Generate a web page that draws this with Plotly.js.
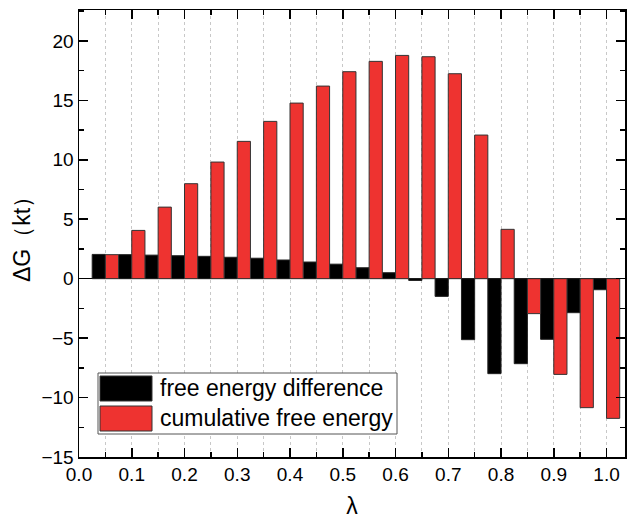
<!DOCTYPE html>
<html>
<head>
<meta charset="utf-8">
<script src="https://cdn.plot.ly/plotly-3.0.1.min.js"></script>
<style>html,body{margin:0;padding:0;background:#fff;}#chart{width:627px;height:519px;}</style>
</head>
<body>
<div id="chart"></div>
<script>
const lambdaValues = [0.05,0.10,0.15,0.20,0.25,0.30,0.35,0.40,0.45,0.50,0.55,0.60,0.65,0.70,0.75,0.80,0.85,0.90,0.95,1.00];
const freeEnergyDifference = [2.04,2.02,1.98,1.93,1.88,1.80,1.72,1.57,1.40,1.22,0.92,0.50,-0.15,-1.49,-5.13,-7.99,-7.15,-5.10,-2.86,-0.93];
const cumulativeFreeEnergy = [2.02,4.06,6.02,7.99,9.81,11.55,13.23,14.77,16.20,17.41,18.28,18.78,18.67,17.24,12.08,4.15,-2.94,-8.05,-10.85,-11.75];
const seriesNames = ["free energy difference", "cumulative free energy"];
const xTickLabels = ["0.0","0.1","0.2","0.3","0.4","0.5","0.6","0.7","0.8","0.9","1.0"];
const xTickValues = [0,0.1,0.2,0.3,0.4,0.5,0.6,0.7,0.8,0.9,1.0];

const FONT = "Liberation Sans, Arial, sans-serif";
const BLACK = "#000000";
const RED = "#EE3330";

const traces = [
  {type:"bar", x:lambdaValues, y:freeEnergyDifference, name:seriesNames[0],
   marker:{color:BLACK, line:{color:"#222", width:1}}, showlegend:false},
  {type:"bar", x:lambdaValues, y:cumulativeFreeEnergy, name:seriesNames[1],
   marker:{color:RED, line:{color:"#333", width:1}}, showlegend:false}
];

// custom legend (big swatches like the original)
const px0 = 79, px1 = 625, py0 = 10, py1 = 457;
const fx = v => (v - px0) / (px1 - px0);
const fy = v => (py1 - v) / (py1 - py0);

const shapes = [
  {type:"rect", xref:"paper", yref:"paper", x0:fx(98), x1:fx(397), y0:fy(434), y1:fy(373),
   line:{color:"#555", width:1}, fillcolor:"#fff", layer:"above"},
  {type:"rect", xref:"paper", yref:"paper", x0:fx(100), x1:fx(152), y0:fy(401), y1:fy(376),
   line:{color:"#333", width:1}, fillcolor:BLACK, layer:"above"},
  {type:"rect", xref:"paper", yref:"paper", x0:fx(100), x1:fx(152), y0:fy(431), y1:fy(406),
   line:{color:"#333", width:1}, fillcolor:RED, layer:"above"}
];
const annotations = [
  {xref:"paper", yref:"paper", x:fx(158), y:fy(388), xanchor:"left", yanchor:"middle",
   text:seriesNames[0], showarrow:false, font:{family:FONT, size:23, color:"#000"}},
  {xref:"paper", yref:"paper", x:fx(158), y:fy(418), xanchor:"left", yanchor:"middle",
   text:seriesNames[1], showarrow:false, font:{family:FONT, size:23, color:"#000"}}
];

const layout = {
  width:627, height:519,
  margin:{l:79, r:2, t:10, b:62},
  paper_bgcolor:"#fff", plot_bgcolor:"#fff",
  barmode:"group", bargap:0, bargroupgap:0,
  font:{family:FONT, color:"#000"},
  xaxis:{
    range:[0,1.035], tickvals:xTickValues, ticktext:xTickLabels,
    ticks:"inside", ticklen:9, tickwidth:1.5, tickcolor:"#000",
    showline:true, linecolor:"#000", linewidth:1.5, mirror:"ticks",
    showgrid:true, gridcolor:"#c8c8c8", gridwidth:1, griddash:"dot",
    zeroline:false,
    tickfont:{family:FONT, size:19, color:"#000"},
    minor:{dtick:0.05, tick0:0, ticks:"inside", ticklen:5, tickwidth:1.5, tickcolor:"#000",
           showgrid:true, gridcolor:"#c8c8c8", gridwidth:1, griddash:"dot"},
    title:{text:"λ", font:{family:FONT, size:23, color:"#000"}, standoff:13}
  },
  yaxis:{
    range:[-15,22.6], dtick:5, tick0:0,
    ticks:"inside", ticklen:9, tickwidth:1.5, tickcolor:"#000",
    showline:true, linecolor:"#000", linewidth:1.5, mirror:"ticks",
    showgrid:false,
    zeroline:true, zerolinecolor:"#000", zerolinewidth:1.5,
    tickfont:{family:FONT, size:19, color:"#000"},
    minor:{dtick:2.5, ticks:"inside", ticklen:5, tickwidth:1.5, tickcolor:"#000", showgrid:false},
    title:{text:"ΔG（kt）", font:{family:FONT, size:23, color:"#000"}, standoff:4}
  },
  shapes:shapes,
  annotations:annotations
};

Plotly.newPlot("chart", traces, layout, {displayModeBar:false, staticPlot:true});
</script>
</body>
</html>
